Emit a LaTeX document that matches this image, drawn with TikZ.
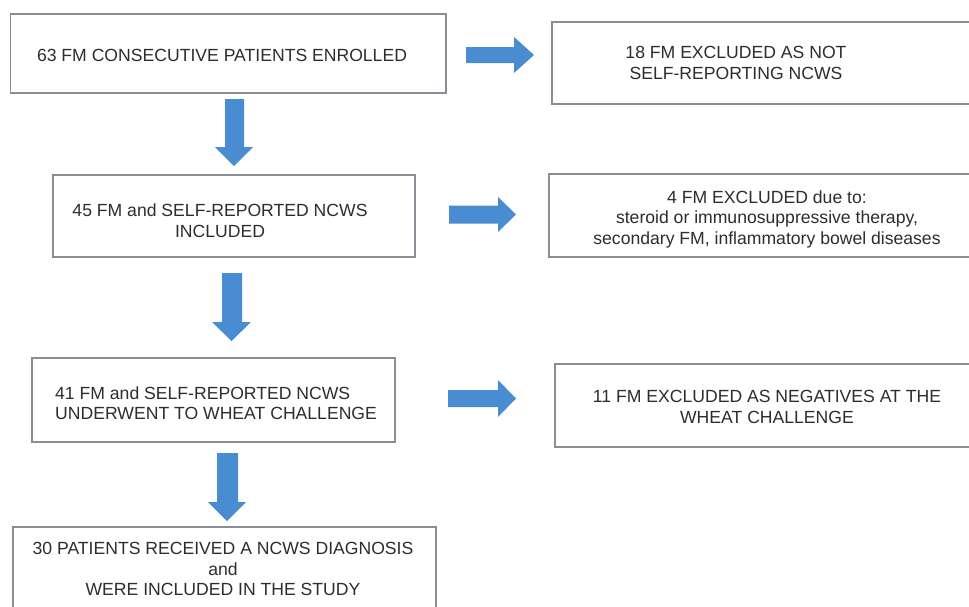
\documentclass[tikz,border=0pt]{standalone}
\usepackage{fontspec}
\setmainfont{Liberation Sans}
\definecolor{arrowblue}{RGB}{74,140,210}
\definecolor{boxgray}{RGB}{135,142,150}
\definecolor{txtgray}{RGB}{45,45,45}
\begin{document}
\begin{tikzpicture}[x=1pt,y=-1pt,
  box/.style={draw=boxgray,line width=1.3pt,fill=white,inner sep=0pt,outer sep=0pt,rectangle},
  txt/.style={inner sep=0pt,align=center,text=txtgray,font=\fontsize{17.6}{20.5}\selectfont},
  blockarrow/.style={fill=arrowblue,draw=none}]
\useasboundingbox (0,0) rectangle (969,606);
\clip (0,0) rectangle (969,606);
\fill[white] (0,0) rectangle (969,606);
% boxes
\node[box,minimum width=435.3pt,minimum height=79pt] (b1) at (228.35,53.5) {};
\node[box,minimum width=433pt,minimum height=82pt] (b18) at (768.5,63) {};
\node[box,minimum width=362pt,minimum height=82pt] (b45) at (234,216) {};
\node[box,minimum width=436pt,minimum height=83pt] (b4) at (767,215.5) {};
\node[box,minimum width=363pt,minimum height=84pt] (b41) at (213.5,400) {};
\node[box,minimum width=430pt,minimum height=83pt] (b11) at (770,405.5) {};
\node[box,minimum width=423pt,minimum height=113pt] (b30) at (224.5,583.5) {};
% texts
\node[txt] (t1) at (222,55) {63 FM CONSECUTIVE PATIENTS ENROLLED};
\node[txt] (t18) at (736,63) {18 FM EXCLUDED AS NOT\\SELF-REPORTING NCWS};
\node[txt] (t45) at (220,220.5) {45 FM and SELF-REPORTED NCWS\\INCLUDED};
\node[txt] (t4) at (767,219.3) {4 FM EXCLUDED due to:\\steroid or immunosuppressive therapy,\\secondary FM, inflammatory bowel diseases};
\node[txt,align=left,anchor=west] (t41) at (55,403) {41 FM and SELF-REPORTED NCWS\\UNDERWENT TO WHEAT CHALLENGE};
\node[txt] (t11) at (767,407) {11 FM EXCLUDED AS NEGATIVES AT THE\\WHEAT CHALLENGE};
\node[txt] (t30) at (223,569) {30 PATIENTS RECEIVED A NCWS DIAGNOSIS\\and\\WERE INCLUDED IN THE STUDY};
% right block arrows
\fill[blockarrow] (466,47) -- (514,47) -- (514,37) -- (534,55) -- (514,73) -- (514,63) -- (466,63) -- cycle;
\fill[blockarrow] (449,205.5) -- (498,205.5) -- (498,197) -- (516,214.5) -- (498,232) -- (498,223.5) -- (449,223.5) -- cycle;
\fill[blockarrow] (448,390) -- (498,390) -- (498,380) -- (516,398.5) -- (498,417) -- (498,407) -- (448,407) -- cycle;
% down block arrows
\fill[blockarrow] (225,99) -- (244,99) -- (244,147) -- (253,147) -- (234,166) -- (215,147) -- (225,147) -- cycle;
\fill[blockarrow] (222,273) -- (242,273) -- (242,322) -- (251,322) -- (231.5,341) -- (212,322) -- (222,322) -- cycle;
\fill[blockarrow] (217,453) -- (238,453) -- (238,502) -- (246,502) -- (227,521) -- (208,502) -- (217,502) -- cycle;
\end{tikzpicture}
\end{document}
